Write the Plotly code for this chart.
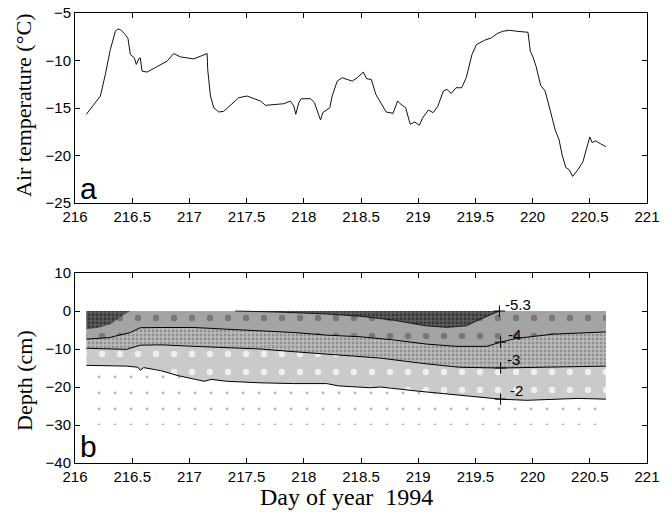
import plotly.graph_objects as go

# ---------------- data ----------------
air_day = [216.099, 216.198, 216.222, 216.265, 216.309, 216.353, 216.373, 216.396, 216.44, 216.463,
           216.484, 216.519, 216.536, 216.557, 216.571, 216.586, 216.63, 216.673, 216.746, 216.805,
           216.863, 216.921, 217.038, 217.155, 217.16, 217.184, 217.213, 217.257, 217.3, 217.359,
           217.431, 217.504, 217.548, 217.621, 217.665, 217.738, 217.825, 217.883, 217.913, 217.93,
           217.956, 217.977, 218.058, 218.093, 218.125, 218.146, 218.166, 218.204, 218.227, 218.248,
           218.292, 218.335, 218.379, 218.423, 218.466, 218.52, 218.55, 218.59, 218.63, 218.68,
           218.72, 218.78, 218.82, 218.85, 218.89, 218.93, 218.97, 219.01, 219.04, 219.09,
           219.13, 219.17, 219.22, 219.25, 219.29, 219.33, 219.38, 219.42, 219.47, 219.51,
           219.54, 219.58, 219.64, 219.69, 219.74, 219.8, 219.86, 219.92, 219.96, 219.98,
           220.0, 220.03, 220.07, 220.11, 220.14, 220.17, 220.2, 220.23, 220.26, 220.29,
           220.32, 220.35, 220.39, 220.44, 220.47, 220.5, 220.52, 220.55, 220.6, 220.64]
air_temp = [-15.66, -14.02, -13.74, -11.47, -8.85, -6.92, -6.68, -6.75, -7.27, -7.69,
            -9.37, -9.72, -10.42, -9.83, -9.72, -11.12, -11.22, -10.94, -10.42, -10.07,
            -9.27, -9.62, -9.83, -9.27, -10.94, -13.74, -14.97, -15.42, -15.35, -14.72,
            -13.92, -13.74, -13.92, -14.27, -14.72, -14.62, -14.55, -14.27, -14.79, -15.66,
            -14.44, -14.02, -14.02, -14.44, -15.49, -16.26, -15.49, -15.14, -14.97, -13.74,
            -12.17, -11.82, -12.0, -12.17, -11.82, -11.22, -11.92, -12.0, -13.57, -14.62,
            -15.42, -15.56, -14.27, -14.62, -14.97, -16.71, -16.47, -16.82, -16.01, -15.21,
            -15.49, -14.86, -13.22, -13.04, -13.46, -12.87, -12.87, -11.82, -9.37, -8.32,
            -8.15, -7.87, -7.62, -7.17, -6.92, -6.82, -6.92, -7.03, -7.03, -9.02,
            -9.55, -10.59, -12.62, -13.22, -14.79, -16.01, -17.41, -18.28, -20.03, -21.25,
            -21.5, -22.2, -21.6, -20.66, -19.34, -18.04, -18.64, -18.46, -18.81, -19.06]

# soil grid extent
grid_day = [216.1, 220.64]
grid_depth = [0, -30]

# coldest zone (< -5.3) boundaries
cold_left_day = [216.1, 216.2, 216.31, 216.41, 216.48]
cold_left_depth = [-4.8, -4.4, -3.5, -1.3, 0]
cold_right_day = [217.4, 217.8, 218.2, 218.5, 218.78, 219.07, 219.25, 219.42, 219.54, 219.71]
cold_right_depth = [0, -0.3, -0.8, -1.4, -2.4, -3.9, -4.3, -3.9, -2.2, 0]

# isotherms
c4_day = [216.1, 216.3, 216.48, 216.57, 216.75, 217.04, 217.33, 217.62, 217.91, 218.2,
          218.5, 218.78, 219.07, 219.33, 219.6, 219.72, 219.86, 220.18, 220.64]
c4_depth = [-7.4, -7.0, -5.7, -4.4, -4.35, -4.35, -4.8, -5.2, -5.65, -6.35,
            -6.8, -7.6, -8.7, -9.3, -9.3, -8.2, -7.2, -6.1, -5.5]
c3_day = [216.1, 216.45, 216.57, 216.75, 217.04, 217.33, 217.62, 217.91, 218.2, 218.67,
          219.07, 219.36, 219.72, 220.2, 220.64]
c3_depth = [-9.8, -10.1, -9.0, -8.9, -9.3, -9.6, -10.0, -10.7, -11.3, -12.4,
            -13.9, -14.8, -15.0, -14.8, -14.5]
c2_day = [216.1, 216.45, 216.55, 216.57, 216.6, 216.75, 216.9, 217.04, 217.13, 217.19,
          217.33, 217.62, 217.91, 218.2, 218.3, 218.58, 218.67, 219.0, 219.36, 219.72,
          219.95, 220.2, 220.4, 220.64]
c2_depth = [-14.3, -14.5, -14.8, -15.6, -14.9, -15.7, -17.0, -17.8, -18.5, -18.0,
            -18.5, -18.9, -19.1, -19.1, -19.7, -20.2, -20.0, -21.1, -22.2, -23.2,
            -23.5, -23.3, -23.0, -23.2]

label_text = ["-5.3", "-4", "-3", "-2"]
label_day = [219.87, 219.84, 219.83, 219.86]
label_depth = [1.8, -6.3, -12.8, -20.8]
mark_day = [219.71, 219.72, 219.72, 219.72]
mark_depth = [0, -8.2, -15.0, -23.2]

xticks = [216, 216.5, 217, 217.5, 218, 218.5, 219, 219.5, 220, 220.5, 221]
xtick_text = ["216", "216.5", "217", "217.5", "218", "218.5", "219", "219.5", "220", "220.5", "221"]

# ---------------- figure ----------------
fig = go.Figure()

fig.add_trace(go.Scatter(x=air_day, y=air_temp, mode="lines",
                         line=dict(color="#111111", width=1), xaxis="x", yaxis="y",
                         showlegend=False, hoverinfo="skip"))


def band(xs, ys, bg, fg, size, solidity):
    fig.add_trace(go.Scatter(
        x=xs, y=ys, mode="lines", fill="toself", line=dict(width=0),
        fillcolor=bg,
        fillpattern=dict(shape=".", bgcolor=bg, fgcolor=fg, size=size,
                         solidity=solidity, fillmode="replace"),
        xaxis="x2", yaxis="y2", showlegend=False, hoverinfo="skip"))


# > -2 (white with sparse dots)
band([grid_day[0], grid_day[1], grid_day[1], grid_day[0]],
     [grid_depth[0], grid_depth[0], grid_depth[1], grid_depth[1]],
     "#ffffff", "#b8b8b8", 16, 0.025)
# -3 .. -2
band([c2_day[0]] + c2_day + [c2_day[-1]], [0] + c2_depth + [0],
     "#cacaca", "#efefef", 18, 0.1)
# -4 .. -3
band([c3_day[0]] + c3_day + [c3_day[-1]], [0] + c3_depth + [0],
     "#bbbbbb", "#909090", 4, 0.4)
# -5.3 .. -4
band([c4_day[0]] + c4_day + [c4_day[-1]], [0] + c4_depth + [0],
     "#a4a4a4", "#787878", 18, 0.1)
# < -5.3
band([cold_left_day[0]] + cold_left_day, [0] + cold_left_depth,
     "#5c5c5c", "#363636", 4, 0.4)
band(cold_right_day, cold_right_depth, "#5c5c5c", "#363636", 4, 0.4)

for xs, ys, w in [(c4_day, c4_depth, 1), (c3_day, c3_depth, 1), (c2_day, c2_depth, 1),
                  (cold_right_day, cold_right_depth, 0.8)]:
    fig.add_trace(go.Scatter(x=xs, y=ys, mode="lines", line=dict(color="black", width=w),
                             xaxis="x2", yaxis="y2", showlegend=False, hoverinfo="skip"))

fig.add_trace(go.Scatter(x=mark_day, y=mark_depth, mode="markers",
                         marker=dict(symbol="cross-thin", size=8,
                                     line=dict(color="black", width=1)),
                         xaxis="x2", yaxis="y2", showlegend=False, hoverinfo="skip"))

for t, xd, yd in zip(label_text, label_day, label_depth):
    fig.add_annotation(x=xd, y=yd, xref="x2", yref="y2", text=t, showarrow=False,
                       xanchor="center", yanchor="middle",
                       font=dict(family="Liberation Sans, Arial", size=15, color="black"))

tickfont = dict(family="Liberation Sans, Arial", size=15, color="black")
axis_common = dict(showline=True, linecolor="black", linewidth=1, mirror="ticks",
                   ticks="inside", ticklen=5, tickcolor="black", tickwidth=1,
                   showgrid=False, zeroline=False, tickfont=tickfont, automargin=False)

xdom = [75 / 671, 647 / 671]
fig.update_layout(
    width=671, height=522, margin=dict(l=0, r=0, t=0, b=0, autoexpand=False),
    paper_bgcolor="white", plot_bgcolor="white",
    xaxis=dict(domain=xdom, range=[216, 221], tickvals=xticks, ticktext=xtick_text,
               anchor="y", **axis_common),
    yaxis=dict(domain=[1 - 203 / 522, 1 - 13 / 522], range=[-25, -5],
               tickvals=[-25, -20, -15, -10, -5], anchor="x", **axis_common),
    xaxis2=dict(domain=xdom, range=[216, 221], tickvals=xticks, ticktext=xtick_text,
                anchor="y2", **axis_common),
    yaxis2=dict(domain=[1 - 463 / 522, 1 - 273 / 522], range=[-40, 10],
                tickvals=[-40, -30, -20, -10, 0, 10], anchor="x2", **axis_common),
)

serif = "Liberation Serif, Times New Roman, serif"
sans = "Liberation Sans, Arial"


def paper_text(px, py, text, family, size, angle=0, xanchor="center"):
    fig.add_annotation(x=px / 671, y=1 - py / 522, xref="paper", yref="paper",
                       text=text, textangle=angle, showarrow=False,
                       xanchor=xanchor, yanchor="middle",
                       font=dict(family=family, size=size, color="black"))


paper_text(23, 105, "Air temperature (°C)", serif, 22, angle=-90)
paper_text(24, 381, "Depth (cm)", serif, 22, angle=-90)
paper_text(346, 497, "Day of year  1994", serif, 24)
paper_text(78, 189, "a", sans, 30, xanchor="left")
paper_text(78, 446, "b", sans, 30, xanchor="left")

fig.write_html("out.html")
